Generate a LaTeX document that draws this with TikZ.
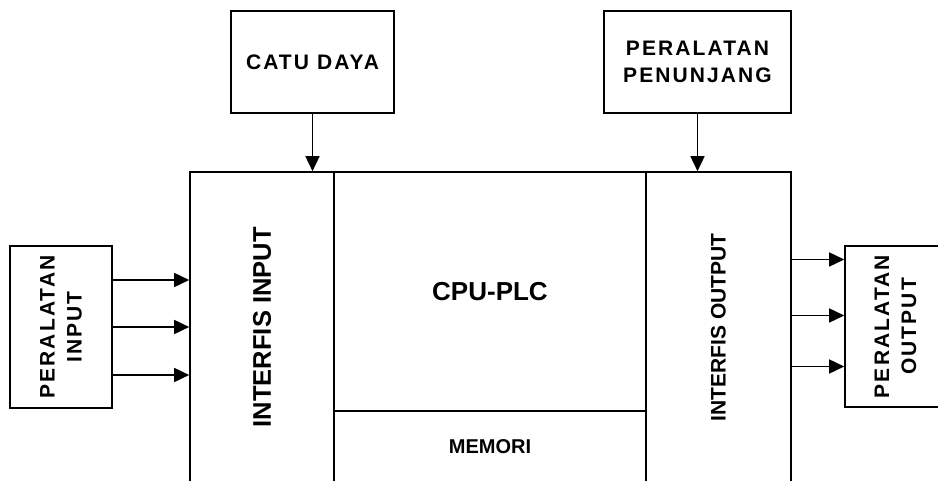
\documentclass[tikz,border=0pt]{standalone}
\usepackage{fontspec}
\setmainfont{Liberation Sans}
\newfontfamily\spacedsf[LetterSpace=10]{Liberation Sans}
\usetikzlibrary{arrows.meta,positioning}

\begin{document}
\begin{tikzpicture}[x=1pt,y=-1pt, >=Stealth,
    block/.style={rectangle,draw=black,line width=1.6pt,inner sep=0pt,align=center,font=\bfseries},
    spaced/.style={font=\spacedsf\bfseries\fontsize{21}{27}\selectfont},
    line/.style={draw=black,line width=1.6pt,-{Triangle[length=15pt,width=14pt]}}]
    \useasboundingbox (0,0) rectangle (938,481);
    % plc unit
    \node[block,minimum width=310.5pt,minimum height=144pt,rotate=90,font=\bfseries\fontsize{25.5}{30}\selectfont] (inp) at (262,327.25) {INTERFIS INPUT};
    \node[block,minimum width=312pt,minimum height=239pt,font=\bfseries\fontsize{26}{30}\selectfont] (cpu) at (490,291.5) {CPU-PLC};
    \node[block,minimum width=312pt,minimum height=71.5pt,font=\bfseries\fontsize{20}{24}\selectfont] (mem) at (490,446.75) {MEMORI};
    \node[block,minimum width=310.5pt,minimum height=145pt,rotate=90,font=\bfseries\fontsize{21}{25}\selectfont] (outp) at (718.5,327.25) {INTERFIS OUTPUT};
    % peripherals
    \node[block,spaced,minimum width=163pt,minimum height=102pt] (catu) at (312.5,62) {CATU DAYA};
    \node[block,spaced,minimum width=187pt,minimum height=102pt] (pen) at (697.5,62) {PERALATAN\\PENUNJANG};
    \node[block,spaced,minimum width=162pt,minimum height=102pt,rotate=90] (pin) at (61,327) {PERALATAN\\INPUT};
    \node[block,spaced,minimum width=161pt,minimum height=101pt,rotate=90] (pout) at (895.5,326.5) {PERALATAN\\OUTPUT};
    \path[line] (catu) -- (catu.south |- inp.east);
    \path[line] (pen) -- (pen.south |- outp.east);
    \foreach \dy in {47,0,-48}
      \path[line] ([yshift=\dy pt]pin.south) -- ([yshift=\dy pt]pin.south -| inp.north);
    \foreach \dy in {67,11,-40}
      \path[line] ([yshift=\dy pt]pout.north -| outp.south) -- ([yshift=\dy pt]pout.north);
  \end{tikzpicture}
\end{document}
